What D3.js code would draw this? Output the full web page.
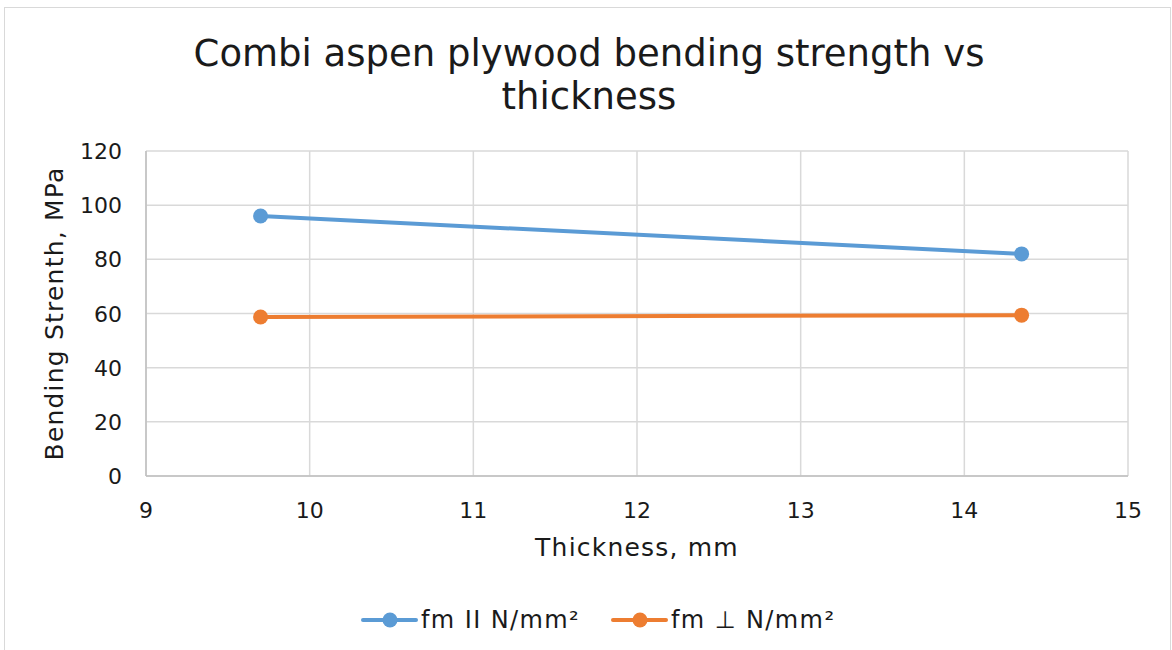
<!DOCTYPE html>
<html>
<head>
<meta charset="utf-8">
<script src="https://cdn.jsdelivr.net/npm/d3@7"></script>
<style>
  body { margin: 0; background: #fff; }
  text { font-family: "DejaVu Sans", Verdana, sans-serif; fill: #1a1a1a; }
</style>
</head>
<body>
<svg id="chart" width="1172" height="650"></svg>
<script>
// data
var thickness = [9.7, 14.35];
var fmParallel = [96, 82];
var fmPerp = [58.7, 59.4];
var seriesNames = ['fm II N/mm\u00b2', 'fm \u22a5 N/mm\u00b2'];
var colours = ['#5b9bd5', '#ed7d31'];
var xTicks = [9, 10, 11, 12, 13, 14, 15];
var yTicks = [0, 20, 40, 60, 80, 100, 120];

var svg = d3.select('#chart');
var margin = {left: 146, right: 44, top: 151, bottom: 174};
var W = 1172, H = 650;

// outer chart border
svg.append('rect')
    .attr('x', 4.5).attr('y', 7.5)
    .attr('width', 1166).attr('height', 650)
    .attr('fill', '#fff').attr('stroke', '#d9d9d9');

var x = d3.scaleLinear().domain([9, 15]).range([margin.left, W - margin.right]);
var y = d3.scaleLinear().domain([0, 120]).range([H - margin.bottom, margin.top]);

// gridlines
svg.append('g').selectAll('line.v')
    .data(xTicks).enter().append('line')
    .attr('x1', d => x(d)).attr('x2', d => x(d))
    .attr('y1', y(0)).attr('y2', y(120))
    .attr('stroke', '#d9d9d9').attr('stroke-width', 1.5);
svg.append('g').selectAll('line.h')
    .data(yTicks).enter().append('line')
    .attr('x1', x(9)).attr('x2', x(15))
    .attr('y1', d => y(d)).attr('y2', d => y(d))
    .attr('stroke', '#d9d9d9').attr('stroke-width', 1.5);

// axis lines
svg.append('line').attr('x1', x(9)).attr('x2', x(15)).attr('y1', y(0)).attr('y2', y(0))
    .attr('stroke', '#bfbfbf').attr('stroke-width', 1.5);
svg.append('line').attr('x1', x(9)).attr('x2', x(9)).attr('y1', y(0)).attr('y2', y(120))
    .attr('stroke', '#bfbfbf').attr('stroke-width', 1.5);

// tick labels
svg.append('g').selectAll('text')
    .data(xTicks).enter().append('text')
    .attr('x', d => x(d)).attr('y', y(0) + 42)
    .attr('text-anchor', 'middle').style('font-size', '22px')
    .text(d => d);
svg.append('g').selectAll('text')
    .data(yTicks).enter().append('text')
    .attr('x', x(9) - 24).attr('y', d => y(d) + 8)
    .attr('text-anchor', 'end').style('font-size', '22px')
    .text(d => d);

// axis titles
svg.append('text')
    .attr('x', (x(9) + x(15)) / 2).attr('y', 556)
    .attr('text-anchor', 'middle').style('font-size', '25px')
    .style('letter-spacing', '1.2px')
    .text('Thickness, mm');
svg.append('text')
    .attr('transform', 'translate(63,' + ((y(0) + y(120)) / 2) + ') rotate(-90)')
    .attr('text-anchor', 'middle').style('font-size', '25px')
    .style('letter-spacing', '1.2px')
    .text('Bending Strenth, MPa');

// title
svg.append('text')
    .attr('x', 589).attr('y', 66)
    .attr('text-anchor', 'middle').style('font-size', '37px')
    .text('Combi aspen plywood bending strength vs');
svg.append('text')
    .attr('x', 589).attr('y', 109)
    .attr('text-anchor', 'middle').style('font-size', '37px')
    .text('thickness');

// series
var series = [fmParallel, fmPerp];
var line = d3.line().x((d, i) => x(thickness[i])).y(d => y(d));
series.forEach(function(vals, s) {
    svg.append('path')
        .datum(vals)
        .attr('d', line)
        .attr('fill', 'none')
        .attr('stroke', colours[s])
        .attr('stroke-width', 4)
        .attr('stroke-linecap', 'round');
    svg.append('g').selectAll('circle')
        .data(vals).enter().append('circle')
        .attr('cx', (d, i) => x(thickness[i]))
        .attr('cy', d => y(d))
        .attr('r', 7.5)
        .attr('fill', colours[s]);
});

// legend
var legX = [363, 613];
series.forEach(function(vals, s) {
    var g = svg.append('g').attr('transform', 'translate(' + legX[s] + ',620)');
    g.append('line').attr('x1', 0).attr('x2', 53).attr('y1', 0).attr('y2', 0)
        .attr('stroke', colours[s]).attr('stroke-width', 4).attr('stroke-linecap', 'round');
    g.append('circle').attr('cx', 27).attr('cy', 0).attr('r', 7.5).attr('fill', colours[s]);
    g.append('text').attr('x', 58).attr('y', 8).style('font-size', '24px')
        .style('letter-spacing', '1.4px').text(seriesNames[s]);
});
</script>
</body>
</html>
